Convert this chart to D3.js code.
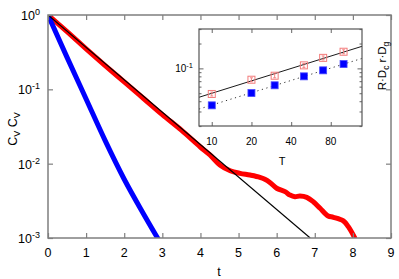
<!DOCTYPE html>
<html>
<head>
<meta charset="utf-8">
<script src="https://cdn.jsdelivr.net/npm/d3@7"></script>
<style>
  body { margin: 0; background: #fff; }
  text { font-family: "Liberation Sans", Arial, sans-serif; fill: #000; }
</style>
</head>
<body>
<div id="chart"></div>
<script>
// main panel: correlation decay
const blueT = [0, 0.5, 1.0, 1.5, 2.0, 2.5, 2.9];
const blueC = [1, 0.269, 0.0741, 0.0204, 0.00617, 0.00214, 0.00095];
const redT = [0, 0.5, 1.0, 1.5, 2.0, 2.5, 3.0, 3.5, 3.99, 4.25, 4.51, 4.78, 5.04, 5.30, 5.56, 5.69, 5.83, 6.00, 6.22, 6.35, 6.48, 6.61, 6.79, 6.96, 7.14, 7.35, 7.49, 7.75, 7.88, 8.06];
const redC = [1, 0.596, 0.351, 0.209, 0.126, 0.0759, 0.0457, 0.0282, 0.0169, 0.0131, 0.0096, 0.00804, 0.00741, 0.00703, 0.00656, 0.00617, 0.00555, 0.00467, 0.0042, 0.00378, 0.0036, 0.00367, 0.00352, 0.00308, 0.00251, 0.00198, 0.0019, 0.0017, 0.00142, 0.00098];
const fitT = [0, 6.88];
const fitC = [1, 0.001];
const xTicks = [0, 1, 2, 3, 4, 5, 6, 7, 8, 9];
const yTicks = [1, 0.1, 0.01, 0.001];
const yExp = ["0", "-1", "-2", "-3"];

// inset: R·Dc and r·Dg versus T
const insetT = [10, 20, 30, 50, 70, 100];
const insetRed = [0.0489, 0.0728, 0.0814, 0.1087, 0.134, 0.159];
const insetRedErr = [0.0027, 0.004, 0.0046, 0.006, 0.0075, 0.009];
const insetBlue = [0.0356, 0.0502, 0.0623, 0.080, 0.0946, 0.1127];
const insetFitT = [8, 138];
const insetFitRed = [0.0446, 0.185];
const insetFitBlue = [0.0321, 0.132];
const insetXTicks = [10, 20, 40, 80];
const insetMinor = [0.02, 0.03, 0.04, 0.05, 0.06, 0.07, 0.08, 0.09, 0.2, 0.3];

function drawChart() {
    const W = 399, H = 279;
    const svg = d3.select("#chart").append("svg").attr("width", W).attr("height", H);
    const m = {left: 48, right: 391, top: 15, bottom: 238};
    const x = d3.scaleLinear().domain([0, 9]).range([m.left, m.right]);
    const y = d3.scaleLog().domain([0.001, 1]).range([m.bottom, m.top]);
    const frame = "#7f7f7f";

    svg.append("defs").append("clipPath").attr("id", "clipMain")
        .append("rect").attr("x", m.left).attr("y", m.top).attr("width", m.right - m.left).attr("height", m.bottom - m.top);

    const line = d3.line().x(d => x(d[0])).y(d => y(d[1]));
    const plot = svg.append("g").attr("clip-path", "url(#clipMain)");
    plot.append("path").datum(d3.zip(redT, redC)).attr("d", line.curve(d3.curveCatmullRom))
        .attr("fill", "none").attr("stroke", "#ff0000").attr("stroke-width", 5).attr("stroke-linejoin", "round");
    plot.append("path").datum(d3.zip(blueT, blueC)).attr("d", line.curve(d3.curveMonotoneX))
        .attr("fill", "none").attr("stroke", "#0000ff").attr("stroke-width", 5);
    plot.append("path").datum(d3.zip(fitT, fitC)).attr("d", line.curve(d3.curveLinear))
        .attr("fill", "none").attr("stroke", "#000").attr("stroke-width", 1.2);

    // axes, ticks pointing inward on all four sides
    const styleAxis = g => {
        g.select(".domain").remove();
        g.selectAll("line").attr("stroke", frame).attr("stroke-width", 1.2);
    };
    svg.append("g").attr("transform", `translate(0,${m.bottom})`)
        .call(d3.axisBottom(x).tickValues(xTicks).tickSize(-5).tickFormat("")).call(styleAxis);
    svg.append("g").attr("transform", `translate(0,${m.top})`)
        .call(d3.axisTop(x).tickValues(xTicks).tickSize(-5).tickFormat("")).call(styleAxis);
    svg.append("g").attr("transform", `translate(${m.left},0)`)
        .call(d3.axisLeft(y).tickValues(yTicks).tickSize(-5).tickFormat("")).call(styleAxis);
    svg.append("g").attr("transform", `translate(${m.right},0)`)
        .call(d3.axisRight(y).tickValues(yTicks).tickSize(-5).tickFormat("")).call(styleAxis);
    svg.append("rect").attr("x", m.left).attr("y", m.top).attr("width", m.right - m.left).attr("height", m.bottom - m.top)
        .attr("fill", "none").attr("stroke", frame).attr("stroke-width", 1.5);

    svg.append("g").selectAll("text").data(xTicks).join("text")
        .attr("x", d => x(d)).attr("y", 257).attr("text-anchor", "middle").attr("font-size", 12.5).text(d => d);

    const yl = svg.append("g").selectAll("text").data(yTicks).join("text")
        .attr("x", 40).attr("y", d => y(d) + 5).attr("text-anchor", "end").attr("font-size", 12.5);
    yl.append("tspan").text("10");
    yl.append("tspan").attr("dy", -5).attr("font-size", 9).text((d, i) => yExp[i]);

    svg.append("text").attr("x", 219).attr("y", 276).attr("text-anchor", "middle").attr("font-size", 12.5).text("t");
    const ylab = svg.append("text").attr("transform", "translate(17,129) rotate(-90)").attr("text-anchor", "middle").attr("font-size", 12.5);
    ylab.append("tspan").text("C");
    ylab.append("tspan").attr("dy", 3).attr("font-size", 9).text("V");
    ylab.append("tspan").attr("dy", -3).text(" C");
    ylab.append("tspan").attr("dy", 3).attr("font-size", 9).text("V");

    // inset
    const ins = {left: 199, right: 362, top: 29, bottom: 126};
    const xi = d3.scaleLog().base(2).domain([8, 138]).range([ins.left, ins.right]);
    const yi = d3.scaleLog().domain([0.02, 0.3]).range([ins.bottom, ins.top]);
    const gi = svg.append("g");
    gi.append("rect").attr("x", ins.left).attr("y", ins.top).attr("width", ins.right - ins.left).attr("height", ins.bottom - ins.top)
        .attr("fill", "#fff");

    gi.append("g").attr("transform", `translate(0,${ins.bottom})`)
        .call(d3.axisBottom(xi).tickValues(insetXTicks).tickSize(-4).tickFormat("")).call(styleAxis);
    gi.append("g").attr("transform", `translate(0,${ins.top})`)
        .call(d3.axisTop(xi).tickValues(insetXTicks).tickSize(-4).tickFormat("")).call(styleAxis);
    gi.append("g").attr("transform", `translate(${ins.left},0)`)
        .call(d3.axisLeft(yi).tickValues(insetMinor).tickSize(-2.5).tickFormat("")).call(styleAxis);
    gi.append("g").attr("transform", `translate(${ins.right},0)`)
        .call(d3.axisRight(yi).tickValues(insetMinor).tickSize(-2.5).tickFormat("")).call(styleAxis);
    gi.append("g").attr("transform", `translate(${ins.left},0)`)
        .call(d3.axisLeft(yi).tickValues([0.1]).tickSize(-4.5).tickFormat("")).call(styleAxis);
    gi.append("g").attr("transform", `translate(${ins.right},0)`)
        .call(d3.axisRight(yi).tickValues([0.1]).tickSize(-4.5).tickFormat("")).call(styleAxis);

    const li = d3.line().x(d => xi(d[0])).y(d => yi(d[1]));
    gi.append("path").datum(d3.zip(insetFitT, insetFitRed)).attr("d", li)
        .attr("fill", "none").attr("stroke", "#000").attr("stroke-width", 0.9);
    gi.append("path").datum(d3.zip(insetFitT, insetFitBlue)).attr("d", li)
        .attr("fill", "none").attr("stroke", "#333").attr("stroke-width", 1).attr("stroke-dasharray", "1.2,3.5");

    const s = 7;
    const red = d3.zip(insetT, insetRed, insetRedErr);
    gi.append("g").selectAll("path").data(red).join("path")
        .attr("d", d => `M${xi(d[0]) - 1.5},${yi(d[1] + d[2])}h3M${xi(d[0])},${yi(d[1] + d[2])}V${yi(d[1] - d[2])}M${xi(d[0]) - 1.5},${yi(d[1] - d[2])}h3`)
        .attr("fill", "none").attr("stroke", "#f37b7b").attr("stroke-width", 0.9);
    gi.append("g").selectAll("rect").data(red).join("rect")
        .attr("x", d => xi(d[0]) - s / 2).attr("y", d => yi(d[1]) - s / 2).attr("width", s).attr("height", s)
        .attr("fill", "none").attr("stroke", "#f37b7b").attr("stroke-width", 1);
    gi.append("g").selectAll("rect").data(d3.zip(insetT, insetBlue)).join("rect")
        .attr("x", d => xi(d[0]) - s / 2).attr("y", d => yi(d[1]) - s / 2).attr("width", s).attr("height", s)
        .attr("fill", "#0000ff").attr("stroke", "#4a4aff").attr("stroke-width", 0.8);

    gi.append("rect").attr("x", ins.left).attr("y", ins.top).attr("width", ins.right - ins.left).attr("height", ins.bottom - ins.top)
        .attr("fill", "none").attr("stroke", "#555").attr("stroke-width", 1.2);

    gi.append("g").selectAll("text").data(insetXTicks).join("text")
        .attr("x", d => xi(d)).attr("y", 145).attr("text-anchor", "middle").attr("font-size", 10).text(d => d);
    const iyl = gi.append("text").attr("x", 193).attr("y", yi(0.1) + 4).attr("text-anchor", "end").attr("font-size", 10);
    iyl.append("tspan").text("10");
    iyl.append("tspan").attr("dy", -4).attr("font-size", 7.5).text("-1");
    gi.append("text").attr("x", 282).attr("y", 165).attr("text-anchor", "middle").attr("font-size", 11).text("T");

    const rl = gi.append("text").attr("transform", "translate(386,66) rotate(-90)").attr("text-anchor", "middle").attr("font-size", 11.5);
    rl.append("tspan").text("R·D");
    rl.append("tspan").attr("dy", 2.5).attr("font-size", 8.5).text("c");
    rl.append("tspan").attr("dy", -2.5).text("  r·D");
    rl.append("tspan").attr("dy", 2.5).attr("font-size", 8.5).text("g");
}

document.addEventListener("DOMContentLoaded", () => {
    drawChart();
});
</script>
</body>
</html>
